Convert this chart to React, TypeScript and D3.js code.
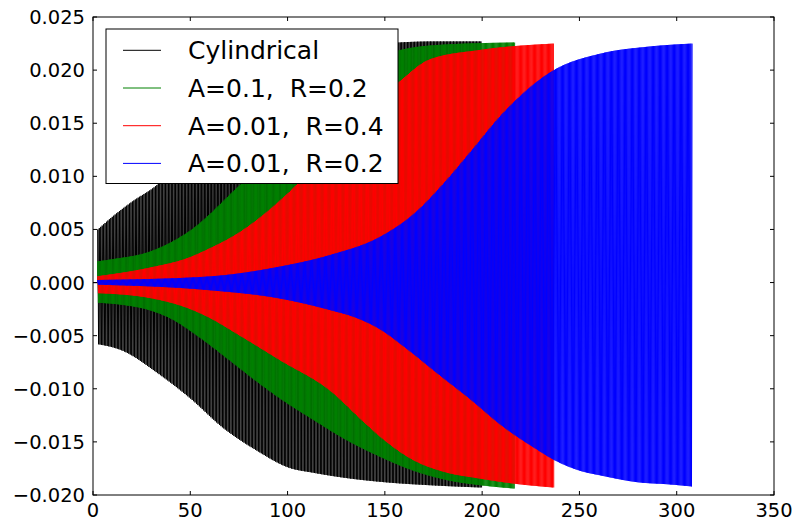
import React from 'react';
import * as d3 from 'd3';

// ---- data ----
const xTickValues = [0, 50, 100, 150, 200, 250, 300, 350];
const yTickValues = [-0.02, -0.015, -0.01, -0.005, 0, 0.005, 0.01, 0.015, 0.02, 0.025];

const seriesNames = ['Cylindrical', 'A=0.1,  R=0.2', 'A=0.01,  R=0.4', 'A=0.01,  R=0.2'];
const seriesColors = ['#000000', '#008000', '#ff0000', '#0000ff'];

// Cylindrical envelope
const cylUpX = [2.5, 10, 20, 33, 50, 67, 84, 101, 113, 130, 150, 175, 200];
const cylUp = [0.005, 0.0062, 0.0076, 0.0092, 0.0125, 0.016, 0.0188, 0.0205, 0.0213, 0.022, 0.0225, 0.0227, 0.0227];
const cylLoX = [2.5, 15, 33, 50, 67, 84, 101, 113, 130, 150, 175, 200];
const cylLo = [-0.0058, -0.0064, -0.0085, -0.0109, -0.0137, -0.0158, -0.01745, -0.0179, -0.0184, -0.0188, -0.0191, -0.0193];

// A=0.1, R=0.2 envelope
const g1UpX = [2.5, 10, 29, 50, 75, 100, 120, 140, 156, 180, 217];
const g1Up = [0.002, 0.0022, 0.0029, 0.0049, 0.0091, 0.0135, 0.017, 0.0202, 0.0218, 0.0224, 0.0226];
const g1LoX = [2.5, 15, 29, 40, 55, 70, 84, 96, 113, 130, 147.5, 164.5, 182, 200, 217];
const g1Lo = [-0.0019, -0.0021, -0.0026, -0.0034, -0.0052, -0.0073, -0.0093, -0.0109, -0.0129, -0.0148, -0.0164, -0.0177, -0.0186, -0.0191, -0.0194];

// A=0.01, R=0.4 envelope
const r4UpX = [2.5, 29, 50, 58.6, 75, 96, 103, 120, 140, 158, 173, 199, 237];
const r4Up = [0.0006, 0.0014, 0.0024, 0.0031, 0.0047, 0.0077, 0.0089, 0.0124, 0.016, 0.019, 0.021, 0.0219, 0.0225];
const r4LoX = [2.5, 29, 50, 58.6, 75.5, 96, 122, 139, 147.5, 164.5, 182, 197, 215, 237];
const r4Lo = [-0.001, -0.00145, -0.0025, -0.0032, -0.005, -0.0073, -0.0102, -0.0131, -0.0145, -0.0167, -0.0179, -0.0184, -0.0189, -0.0193];

// A=0.01, R=0.2 envelope
const r2UpX = [2.5, 58.6, 96, 122, 147.5, 164.5, 182, 194, 211, 236, 262, 285, 308];
const r2Up = [0.00024, 0.00056, 0.0015, 0.0026, 0.0043, 0.0064, 0.0097, 0.0123, 0.016, 0.0199, 0.0216, 0.0222, 0.0225];
const r2LoX = [2.5, 58.6, 96, 122, 135, 147.5, 161, 178, 194, 211, 228, 236, 250, 262, 280, 296, 308];
const r2Lo = [-0.0002, -0.0007, -0.0015, -0.0026, -0.0033, -0.0044, -0.0062, -0.0087, -0.011, -0.0136, -0.0157, -0.0166, -0.0177, -0.0182, -0.0188, -0.019, -0.0192];

const envelopes = [
  { upX: cylUpX, up: cylUp, loX: cylLoX, lo: cylLo, half: 0.37 },
  { upX: g1UpX, up: g1Up, loX: g1LoX, lo: g1Lo, half: 0.3 },
  { upX: r4UpX, up: r4Up, loX: r4LoX, lo: r4Lo, half: 0.3 },
  { upX: r2UpX, up: r2Up, loX: r2LoX, lo: r2Lo, half: 0.3 },
];

const W = 797;
const H = 525;
const L = 93, R = 774, T = 17, B = 495;
const FONT = 'DejaVu Sans, sans-serif';

// monotone cubic (Steffen) interpolation through the envelope points
function monotone(xs: number[], ys: number[]) {
  const n = xs.length;
  const h: number[] = [];
  const s: number[] = [];
  for (let i = 0; i < n - 1; i++) {
    h.push(xs[i + 1] - xs[i]);
    s.push((ys[i + 1] - ys[i]) / (xs[i + 1] - xs[i]));
  }
  const m: number[] = new Array(n).fill(0);
  for (let i = 1; i < n - 1; i++) {
    const s0 = s[i - 1], s1 = s[i];
    const p = (s0 * h[i] + s1 * h[i - 1]) / (h[i - 1] + h[i]);
    m[i] = (Math.sign(s0) + Math.sign(s1)) * Math.min(Math.abs(s0), Math.abs(s1), 0.5 * Math.abs(p));
  }
  m[0] = n > 2 ? (3 * s[0] - m[1]) / 2 : s[0];
  m[n - 1] = n > 2 ? (3 * s[n - 2] - m[n - 2]) / 2 : s[n - 2];
  if (Math.sign(m[0]) !== Math.sign(s[0])) m[0] = 0;
  if (Math.sign(m[n - 1]) !== Math.sign(s[n - 2])) m[n - 1] = 0;
  return (x: number) => {
    if (x <= xs[0]) return ys[0];
    if (x >= xs[n - 1]) return ys[n - 1];
    const i = Math.min(n - 2, d3.bisectRight(xs, x) - 1);
    const hi = h[i];
    const t = (x - xs[i]) / hi;
    const t2 = t * t, t3 = t2 * t;
    return (2 * t3 - 3 * t2 + 1) * ys[i] + (t3 - 2 * t2 + t) * hi * m[i]
      + (-2 * t3 + 3 * t2) * ys[i + 1] + (t3 - t2) * hi * m[i + 1];
  };
}

export default function App() {
  const x = d3.scaleLinear().domain([0, 350]).range([L, R]);
  const y = d3.scaleLinear().domain([-0.02, 0.025]).range([B, T]);
  const fmtY = d3.format('.3f');
  const line = d3.line<[number, number]>().x(d => x(d[0])).y(d => y(d[1]));

  const paths = envelopes.map((e) => {
    const upS = monotone(e.upX, e.up);
    const loS = monotone(e.loX, e.lo);
    const x0 = e.upX[0];
    const x1 = Math.min(e.upX[e.upX.length - 1], e.loX[e.loX.length - 1]);
    const pts: [number, number][] = [[0, 0], [x0, 0]];
    let k = 0;
    for (let t = x0; t <= x1; t += e.half, k++) {
      pts.push([t, k % 2 === 0 ? upS(t) : loS(t)]);
    }
    return line(pts) || '';
  });

  const legX = 106, legY = 29, legW = 292, legH = 154.5;
  const rowY0 = 50.3, rowStep = 37.7;

  return (
    <svg width={W} height={H} style={{ position: 'fixed', left: 0, top: 0, background: '#fff' }}>
      <rect x={0} y={0} width={W} height={H} fill="#fff" />
      <defs>
        <clipPath id="plotclip">
          <rect x={L} y={T} width={R - L} height={B - T} />
        </clipPath>
      </defs>
      <g clipPath="url(#plotclip)">
        {paths.map((d, i) => (
          <path key={i} d={d} fill="none" stroke={seriesColors[i]} strokeWidth={1} />
        ))}
      </g>
      {/* frame */}
      <rect x={L} y={T} width={R - L} height={B - T} fill="none" stroke="#000" strokeWidth={1} />
      {/* x ticks */}
      {xTickValues.map((v) => (
        <g key={'x' + v}>
          <line x1={x(v)} x2={x(v)} y1={B} y2={B - 4} stroke="#000" />
          <line x1={x(v)} x2={x(v)} y1={T} y2={T + 4} stroke="#000" />
          <text x={x(v)} y={517} fontSize={19.5} fontFamily={FONT} textAnchor="middle" fill="#000">{String(v)}</text>
        </g>
      ))}
      {/* y ticks */}
      {yTickValues.map((v) => (
        <g key={'y' + v}>
          <line x1={L} x2={L + 4} y1={y(v)} y2={y(v)} stroke="#000" />
          <line x1={R} x2={R - 4} y1={y(v)} y2={y(v)} stroke="#000" />
          <text x={85} y={y(v) + 7} fontSize={19.5} fontFamily={FONT} textAnchor="end" fill="#000">{fmtY(v)}</text>
        </g>
      ))}
      {/* legend */}
      <rect x={legX} y={legY} width={legW} height={legH} fill="#fff" stroke="#000" strokeWidth={1} />
      {seriesNames.map((name, i) => (
        <g key={name}>
          <line x1={123} x2={161} y1={rowY0 + i * rowStep} y2={rowY0 + i * rowStep} stroke={seriesColors[i]} strokeWidth={1} />
          <text x={188} y={rowY0 + i * rowStep + 9} fontSize={25} fontFamily={FONT} fill="#000" style={{ whiteSpace: 'pre' }}>{name}</text>
        </g>
      ))}
    </svg>
  );
}
